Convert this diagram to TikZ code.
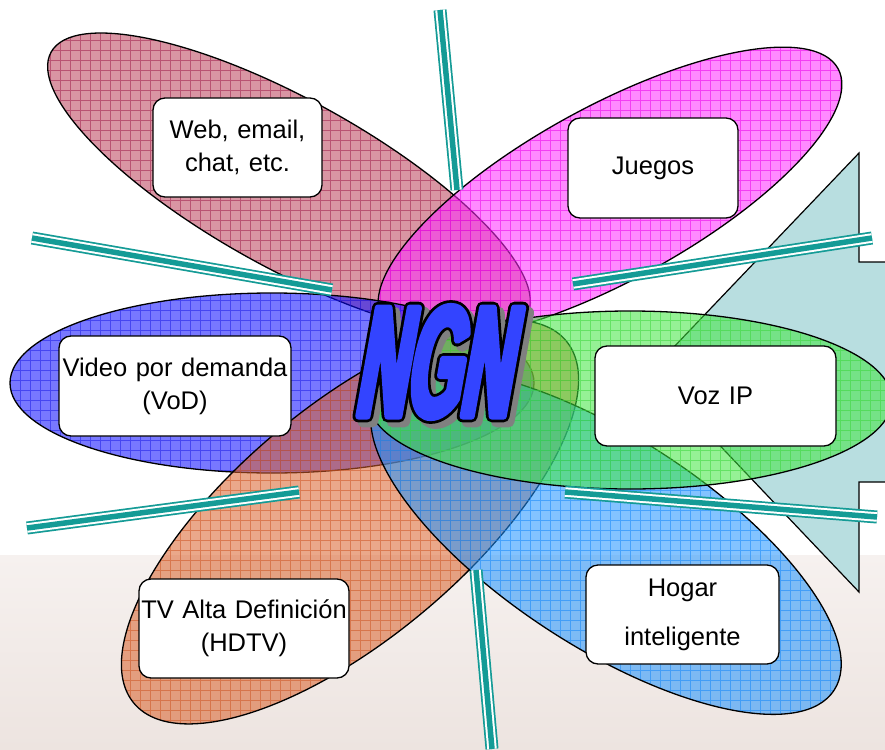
\documentclass[tikz,border=0pt]{standalone}
\usepackage{fontspec}
\setmainfont{Liberation Sans}
\newfontfamily\ngnK[FakeStretch=0.44,FakeSlant=0.18,FakeBold=7.5]{Liberation Sans Bold}
\newfontfamily\ngnB[FakeStretch=0.44,FakeSlant=0.18,FakeBold=4]{Liberation Sans Bold}
\definecolor{raycol}{RGB}{20,155,150}
\definecolor{arrowcol}{RGB}{184,222,224}
\definecolor{ngnblue}{RGB}{51,68,255}
\definecolor{ngnshadow}{RGB}{128,128,128}
\definecolor{bgtop}{RGB}{246,241,239}
\definecolor{bgbot}{RGB}{237,228,224}
\definecolor{brownF}{RGB}{187,63,88}
\definecolor{brownG}{RGB}{160,30,75}
\definecolor{magF}{RGB}{255,43,255}
\definecolor{magG}{RGB}{235,0,235}
\definecolor{blueF}{RGB}{10,10,255}
\definecolor{blueG}{RGB}{30,30,230}
\definecolor{greenF}{RGB}{63,230,63}
\definecolor{greenG}{RGB}{60,215,60}
\definecolor{orangeF}{RGB}{217,97,43}
\definecolor{orangeG}{RGB}{205,85,35}
\definecolor{lblueF}{RGB}{30,147,255}
\definecolor{lblueG}{RGB}{20,135,250}
\tikzset{
  card/.style={draw=black, fill=white, rounded corners=12pt, line width=1.3pt,
    inner sep=0pt, align=center, font=\fontsize{25.5}{33}\selectfont},
  ray/.style={draw=raycol, line width=13pt,
    postaction={draw=white, line width=9.5pt},
    postaction={draw=raycol, line width=5.5pt}},
  ngnout/.style={font=\ngnK\fontsize{158}{158}\selectfont, inner sep=0pt,
    line join=round},
  ngnfill/.style={font=\ngnB\fontsize{158}{158}\selectfont, inner sep=0pt,
    line join=round},
  petaledge/.style={draw=black, line width=1.3pt},
}
% cx, cy, angle, a, b, fill colour, grid colour
\newcommand\mypetal[7]{%
  \begin{scope}
    \clip[rotate around={#3:(#1,#2)}] (#1,#2) ellipse ({#4} and {#5});
    \fill[#6, fill opacity=0.55] (0,0) rectangle (885,749);
    \draw[#7, line width=0.5pt, draw opacity=0.55]
      \foreach \gx in {0,10,...,880}{(\gx,0) -- (\gx,749)}
      \foreach \gy in {0,10,...,740}{(0,\gy) -- (885,\gy)};
  \end{scope}
  \draw[petaledge, rotate around={#3:(#1,#2)}] (#1,#2) ellipse ({#4} and {#5});
}
\begin{document}
\begin{tikzpicture}[x=1pt,y=-1pt]
\useasboundingbox (0,0) rectangle (885,749);
\clip (0,0) rectangle (885,749);
% background
\fill[white] (0,0) rectangle (885,749);
\shade[top color=bgtop, bottom color=bgbot] (0,555) rectangle (885,749);

% big arrow pointing left
\filldraw[fill=arrowcol, draw=black, line width=1.2pt]
  (650,372) -- (859,153) -- (859,262) -- (900,262) -- (900,482)
  -- (859,482) -- (859,592) -- cycle;

% petals
\mypetal{289}{184}{-29}{272}{84}{brownF}{brownG}
\mypetal{610}{193.5}{28.7}{260}{87}{magF}{magG}
\mypetal{272}{383}{0}{262}{90}{blueF}{blueG}
\mypetal{350}{522}{40}{282}{116}{orangeF}{orangeG}
\mypetal{606}{542}{-33}{272}{105}{lblueF}{lblueG}
\mypetal{630}{400}{0}{262}{89}{greenF}{greenG}

% rays
\coordinate (r1a) at (440,10);  \coordinate (r1b) at (457,190);
\coordinate (r2a) at (32,238);  \coordinate (r2b) at (332,290);
\coordinate (r3a) at (573,284); \coordinate (r3b) at (872,238);
\coordinate (r4a) at (27,528);  \coordinate (r4b) at (299,492);
\coordinate (r5a) at (565,492); \coordinate (r5b) at (877,517);
\coordinate (r6a) at (476,570); \coordinate (r6b) at (492,749);
\draw[ray] (r1a) -- (r1b);
\draw[ray] (r2a) -- (r2b);
\draw[ray] (r3a) -- (r3b);
\draw[ray] (r4a) -- (r4b);
\draw[ray] (r5a) -- (r5b);
\draw[ray] (r6a) -- (r6b);

% NGN title: shadow, outline, fill
\node[ngnout, text=ngnshadow] (ngnshadow) at (436,367) {NGN};
\node[ngnout, text=black] (ngnoutline) at (431,362) {NGN};
\node[ngnfill, text=ngnblue] (ngn) at (431,362) {NGN};

% text cards
\node[card, minimum width=169pt, minimum height=99pt, text width=165pt]
  (web) at (237.5,147.5) {Web, email,\\chat, etc.};
\node[card, minimum width=170pt, minimum height=100pt, text width=166pt]
  (juegos) at (653,168) {Juegos};
\node[card, minimum width=232pt, minimum height=100pt, text width=230pt]
  (vod) at (175,386) {Video por demanda\\(VoD)};
\node[card, minimum width=241pt, minimum height=100pt, text width=237pt]
  (voz) at (715.5,396) {Voz IP};
\node[card, minimum width=210pt, minimum height=99pt, text width=206pt]
  (tv) at (244,628.5) {TV Alta Definición\\(HDTV)};
\node[card, minimum width=193pt, minimum height=99pt, text width=189pt,
  font=\fontsize{25.5}{49}\selectfont]
  (hogar) at (682.5,614.5) {Hogar\\inteligente};
\end{tikzpicture}
\end{document}
